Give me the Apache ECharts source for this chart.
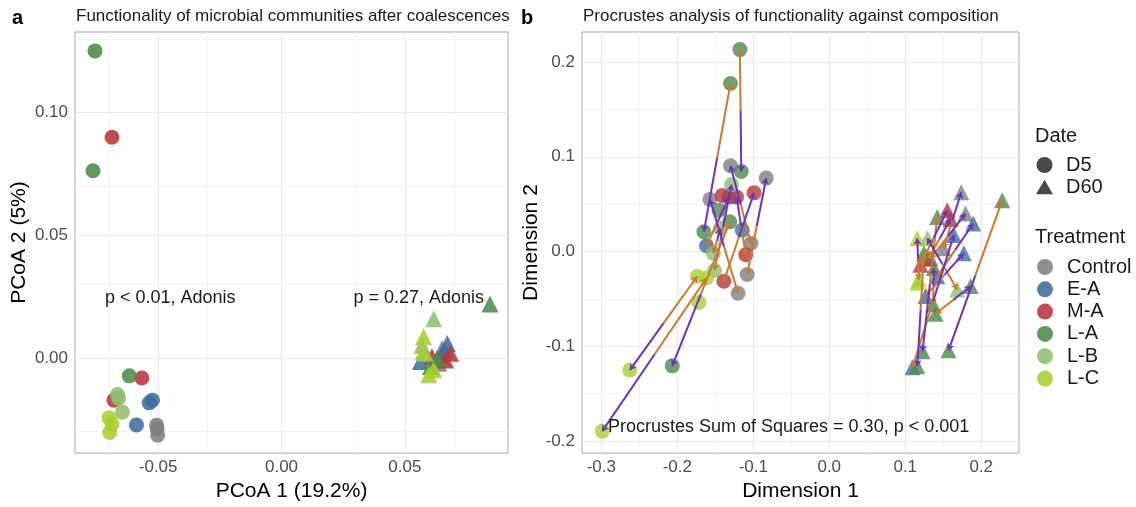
<!DOCTYPE html>
<html><head><meta charset="utf-8">
<script src="https://cdn.jsdelivr.net/npm/echarts@6/dist/echarts.min.js"></script>
<style>html,body{margin:0;padding:0;background:#fff}#c{width:1136px;height:507px}</style>
</head><body><div id="c"></div>
<script>
// ---------- data ----------
const treatments = ['Control', 'E-A', 'M-A', 'L-A', 'L-B', 'L-C'];
const colors = ['#7f7f7f', '#3e6e9c', '#b8363a', '#4b8b4a', '#8fbe6d', '#a8cf2f'];
const dates = ['D5', 'D60'];

// Panel a: PCoA coordinates [PCoA1, PCoA2], grouped by treatment (order of `treatments`)
const pcoaD5 = [
  [[-0.0506, -0.0274], [-0.0502, -0.0315], [-0.0504, -0.0290]],
  [[-0.0536, -0.0183], [-0.0523, -0.0172], [-0.0588, -0.0273]],
  [[-0.0687, 0.0900], [-0.0566, -0.0082], [-0.0679, -0.0172]],
  [[-0.0756, 0.1252], [-0.0764, 0.0763], [-0.0617, -0.0073]],
  [[-0.0665, -0.0149], [-0.0645, -0.0221], [-0.0660, -0.0165]],
  [[-0.0699, -0.0244], [-0.0696, -0.0304], [-0.0687, -0.0269]]
];
const pcoaD60 = [
  [[0.0651, 0.0039], [0.0637, -0.0022], [0.0645, 0.0010]],
  [[0.0672, 0.0059], [0.0563, -0.0015], [0.0660, 0.0030]],
  [[0.0685, 0.0019], [0.0610, 0.0005], [0.0665, -0.0008]],
  [[0.0845, 0.0220], [0.0631, -0.0002], [0.0604, -0.0035]],
  [[0.0617, 0.0160], [0.0570, 0.0052], [0.0583, 0.0019]],
  [[0.0576, 0.0086], [0.0574, 0.0025], [0.0617, -0.0048], [0.0597, -0.0069]]
];

// Panel b: Procrustes pairs [treatment index, x1, y1, x2, y2]
const procD5Pairs = [
  [0, -0.108, -0.0243, -0.083, 0.0775],
  [0, -0.103, 0.0087, -0.130, 0.0905],
  [0, -0.120, -0.0441, -0.157, 0.055],
  [1, -0.1615, 0.006, -0.132, 0.0574],
  [2, -0.1387, -0.0313, -0.099, 0.0619],
  [2, -0.110, -0.0034, -0.122, 0.0574],
  [3, -0.1176, 0.2131, -0.1158, 0.0845],
  [3, -0.130, 0.1774, -0.165, 0.0209],
  [3, -0.131, 0.0313, -0.2066, -0.1207],
  [4, -0.151, -0.0198, -0.1286, 0.0706],
  [4, -0.1526, -0.0018, -0.143, 0.0243],
  [5, -0.1614, -0.0279, -0.2987, -0.1896],
  [5, -0.1737, -0.0261, -0.2624, -0.1252]
];
const procD5Single = [
  [1, -0.1145, 0.0226], [2, -0.141, 0.0592], [3, -0.145, 0.0435], [5, -0.1716, -0.0537]
];
const procD60Pairs = [
  [0, 0.1504, 0.0034, 0.1737, 0.0626],
  [0, 0.1333, -0.0073, 0.1793, 0.040],
  [1, 0.142, -0.0261, 0.1895, 0.0295],
  [1, 0.1096, -0.1221, 0.164, 0.0174],
  [1, 0.1267, -0.047, 0.177, -0.0018],
  [2, 0.120, -0.0139, 0.1553, 0.0435],
  [2, 0.1307, -0.0073, 0.1596, 0.0344],
  [3, 0.2276, 0.054, 0.157, -0.1043],
  [3, 0.142, 0.0365, 0.1228, -0.1054],
  [3, 0.1245, -0.0018, 0.116, -0.121],
  [3, 0.1368, -0.0556, 0.1376, -0.0174],
  [3, 0.140, -0.0657, 0.186, -0.0365],
  [4, 0.1684, -0.040, 0.129, 0.0139],
  [5, 0.1179, -0.0295, 0.1158, 0.0139]
];
const procD60Single = [
  [5, 0.1158, -0.0331]
];

// axes
const aXRange = [-0.0837, 0.0918], aYRange = [-0.0388, 0.1329];
const bXRange = [-0.3254, 0.2497], bYRange = [-0.2128, 0.2317];
const aXTicks = [-0.05, 0, 0.05], aXMinor = [-0.075, -0.025, 0.025, 0.075];
const aYTicks = [0, 0.05, 0.10], aYMinor = [-0.025, 0.025, 0.075, 0.125];
const bXTicks = [-0.3, -0.2, -0.1, 0, 0.1, 0.2], bXMinor = [-0.25, -0.15, -0.05, 0.05, 0.15];
const bYTicks = [-0.2, -0.1, 0, 0.1, 0.2], bYMinor = [-0.15, -0.05, 0.05, 0.15];

// ---------- styling ----------
const FONT = '"Liberation Sans", Arial, Helvetica, sans-serif';
const ORANGE = '#c87a2e', PURPLE = '#6b33c0';
const MAJOR = '#ebebeb', MINOR = '#f4f4f4';
const TRI = 'path://M50,0 L100,86.6 L0,86.6 Z';

function axis(gridIndex, range, ticks, digits, name, gap, isY) {
  return {
    type: 'value', gridIndex, min: range[0], max: range[1],
    name, nameLocation: 'middle', nameGap: gap,
    nameTextStyle: { fontSize: 21, color: '#000', fontFamily: FONT },
    axisLine: { show: false },
    splitLine: { show: false },
    axisTick: { show: true, length: 4, customValues: ticks, lineStyle: { color: '#555' } },
    axisLabel: { customValues: ticks, fontSize: 17, color: '#4d4d4d', fontFamily: FONT,
      margin: isY ? 7 : 6, formatter: v => Number(v).toFixed(digits) }
  };
}

function gridLines(xi, xMaj, xMin, yMaj, yMin) {
  const d = [];
  xMin.forEach(v => d.push({ xAxis: v, lineStyle: { color: MINOR, width: 1 } }));
  yMin.forEach(v => d.push({ yAxis: v, lineStyle: { color: MINOR, width: 1 } }));
  xMaj.forEach(v => d.push({ xAxis: v, lineStyle: { color: MAJOR, width: 1.2 } }));
  yMaj.forEach(v => d.push({ yAxis: v, lineStyle: { color: MAJOR, width: 1.2 } }));
  return {
    type: 'scatter', xAxisIndex: xi, yAxisIndex: xi, z: 0, silent: true,
    data: [[xMaj[0], yMaj[0]]], itemStyle: { opacity: 0 }, symbolSize: 0,
    markLine: { silent: true, symbol: 'none', label: { show: false }, animation: false,
      lineStyle: { type: 'solid' }, emphasis: { disabled: true }, data: d }
  };
}

const series = [];
series.push(gridLines(0, aXTicks, aXMinor, aYTicks, aYMinor));
series.push(gridLines(1, bXTicks, bXMinor, bYTicks, bYMinor));

// Panel a points
treatments.forEach((t, i) => {
  series.push({ type: 'scatter', name: t, xAxisIndex: 0, yAxisIndex: 0, z: 5,
    symbol: 'circle', symbolSize: 15, data: pcoaD5[i],
    itemStyle: { color: colors[i], opacity: 0.88 } });
  series.push({ type: 'scatter', name: t, xAxisIndex: 0, yAxisIndex: 0, z: 5,
    symbol: 'triangle', symbolSize: 17, data: pcoaD60[i],
    itemStyle: { color: colors[i], opacity: 0.88 } });
});

// Panel b points
function procPoints(pairs, singles, ti) {
  const pts = [];
  pairs.forEach(p => { if (p[0] === ti) { pts.push([p[1], p[2]]); pts.push([p[3], p[4]]); } });
  singles.forEach(p => { if (p[0] === ti) pts.push([p[1], p[2]]); });
  return pts;
}
treatments.forEach((t, i) => {
  series.push({ type: 'scatter', name: t, xAxisIndex: 1, yAxisIndex: 1, z: 5,
    symbol: 'circle', symbolSize: 15, data: procPoints(procD5Pairs, procD5Single, i),
    itemStyle: { color: colors[i], opacity: 0.8 } });
  series.push({ type: 'scatter', name: t, xAxisIndex: 1, yAxisIndex: 1, z: 5,
    symbol: 'triangle', symbolSize: 16, data: procPoints(procD60Pairs, procD60Single, i),
    itemStyle: { color: colors[i], opacity: 0.8 } });
});

// Panel b segments: from midpoint toward each end, orange to first, purple to second
const orangeSeg = [], purpleSeg = [];
procD5Pairs.concat(procD60Pairs).forEach(p => {
  const m = [(p[1] + p[3]) / 2, (p[2] + p[4]) / 2];
  orangeSeg.push({ coords: [m, [p[1], p[2]]] });
  purpleSeg.push({ coords: [m, [p[3], p[4]]] });
});
series.push({ type: 'lines', coordinateSystem: 'cartesian2d', xAxisIndex: 1, yAxisIndex: 1, z: 6,
  symbol: ['none', 'arrow'], symbolSize: 6, silent: true,
  lineStyle: { color: ORANGE, width: 2, opacity: 1 }, data: orangeSeg });
series.push({ type: 'lines', coordinateSystem: 'cartesian2d', xAxisIndex: 1, yAxisIndex: 1, z: 6,
  symbol: ['none', 'arrow'], symbolSize: 6, silent: true,
  lineStyle: { color: PURPLE, width: 2, opacity: 1 }, data: purpleSeg });

// Date legend dummies
series.push({ type: 'scatter', name: dates[0], xAxisIndex: 0, yAxisIndex: 0, data: [], itemStyle: { color: '#1a1a1a' } });
series.push({ type: 'scatter', name: dates[1], xAxisIndex: 0, yAxisIndex: 0, data: [], itemStyle: { color: '#1a1a1a' } });

function txt(text, x, y, size, opts) {
  return { type: 'text', silent: true, z: 10,
    style: Object.assign({ text, x, y, font: size + 'px ' + FONT, fill: '#1a1a1a',
      align: 'left', verticalAlign: 'middle' }, (opts || {})) };
}

const legendText = { fontSize: 20, lineHeight: 20, color: '#1a1a1a', fontFamily: FONT };
const option = {
  animation: false,
  backgroundColor: '#fff',
  grid: [
    { left: 75, top: 32, width: 433, height: 426, show: true, borderColor: '#a8a8a8', borderWidth: 1, backgroundColor: 'transparent' },
    { left: 582, top: 32, width: 437, height: 427, show: true, borderColor: '#a8a8a8', borderWidth: 1, backgroundColor: 'transparent' }
  ],
  xAxis: [
    axis(0, aXRange, aXTicks, 2, 'PCoA 1 (19.2%)', 24, false),
    axis(1, bXRange, bXTicks, 1, 'Dimension 1', 24, false)
  ],
  yAxis: [
    axis(0, aYRange, aYTicks, 2, 'PCoA 2 (5%)', 45, true),
    axis(1, bYRange, bYTicks, 1, 'Dimension 2', 34, true)
  ],
  legend: [
    { orient: 'vertical', left: 1036, top: 155, padding: 0, itemWidth: 17, itemHeight: 16, itemGap: 2,
      selectedMode: false, textStyle: Object.assign({ padding: [0, 0, 0, 8] }, legendText),
      data: [{ name: dates[0], icon: 'circle' }, { name: dates[1], icon: TRI }] },
    { orient: 'vertical', left: 1037, top: 257, padding: 0, itemWidth: 16, itemHeight: 16, itemGap: 2.3,
      selectedMode: false, textStyle: Object.assign({ padding: [0, 0, 0, 9] }, legendText),
      data: treatments.map(t => ({ name: t, icon: 'circle' })) }
  ],
  graphic: [
    txt('a', 12, 18, 20, { font: 'bold 20px ' + FONT, fill: '#000' }),
    txt('b', 521, 18, 20, { font: 'bold 20px ' + FONT, fill: '#000' }),
    txt('Functionality of microbial communities after coalescences', 76, 16, 17),
    txt('Procrustes analysis of functionality against composition', 583, 16, 17),
    txt('p < 0.01, Adonis', 105, 298, 18),
    txt('p = 0.27, Adonis', 484, 298, 18, { align: 'right' }),
    txt('Procrustes Sum of Squares = 0.30, p < 0.001', 608, 427, 18),
    txt('Date', 1035, 136, 20),
    txt('Treatment', 1035, 237, 20)
  ],
  series
};
echarts.init(document.getElementById('c'), null, { renderer: 'canvas' }).setOption(option);
</script></body></html>
